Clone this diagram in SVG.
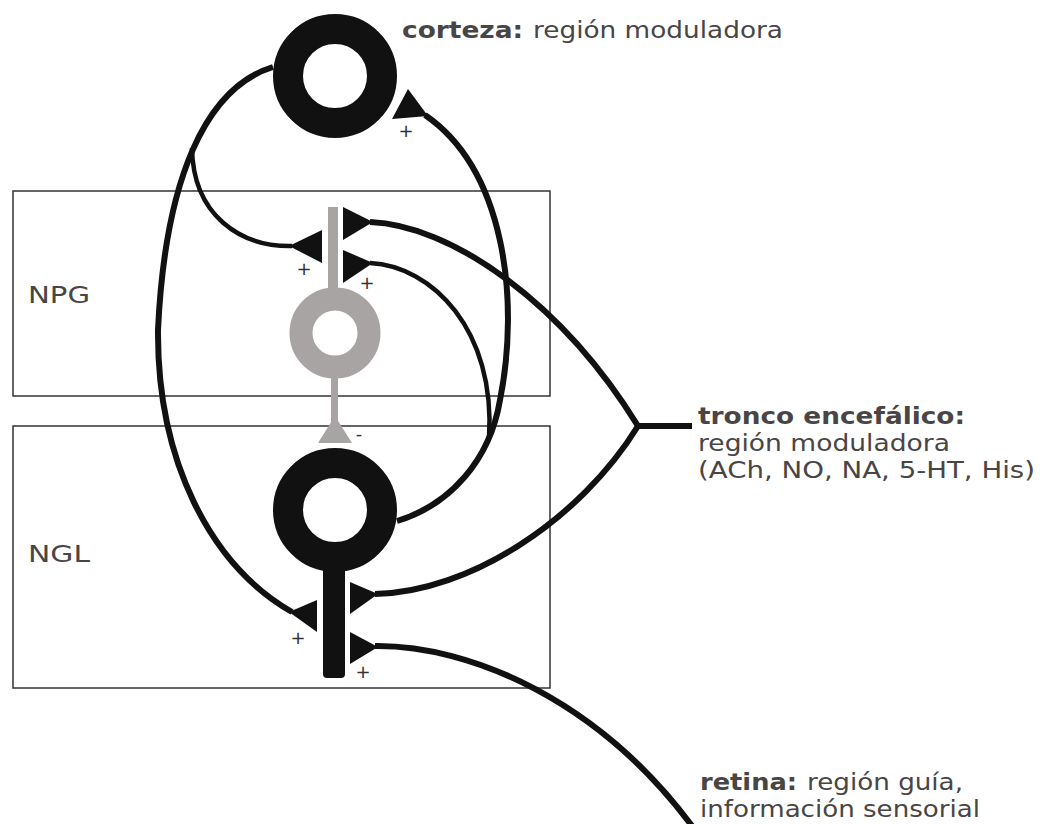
<svg xmlns="http://www.w3.org/2000/svg" width="1040" height="824" viewBox="0 0 1040 824">
<style>
.box{fill:none;stroke:#333;stroke-width:1.5}
.thick{fill:none;stroke:#111;stroke-width:6;stroke-linecap:butt}
.thin{fill:none;stroke:#111;stroke-width:4.5;stroke-linecap:butt}
.term{fill:#111}
.ring{fill:none;stroke:#111;stroke-width:30}
.gray{fill:#a9a4a4}
.lbl{font-family:"DejaVu Sans","Verdana",sans-serif;fill:#4a4545;font-size:23px}
.b{font-weight:bold}
.sign{font-family:"DejaVu Sans",sans-serif;fill:#333;font-size:18px;text-anchor:middle}
</style>
<rect width="1040" height="824" fill="#fff"/>
<g id="box-npg">
<rect class="box" x="13" y="191" width="537" height="205"/>
<text class="lbl" x="28" y="303" font-size="27" textLength="62" lengthAdjust="spacingAndGlyphs">NPG</text>
</g>
<g id="box-ngl">
<rect class="box" x="13" y="426" width="537" height="262"/>
<text class="lbl" x="28" y="562" font-size="27" textLength="62" lengthAdjust="spacingAndGlyphs">NGL</text>
</g>
<g id="connectors">
<path class="thick" d="M273,67 C205,88 165,180 158,330 C157,460 210,565 292,612"/>
<path class="thin" d="M192,148 C193,215 240,247 292,246"/>
<path class="thick" d="M397,521 C450,505 490,460 500,400 C520,300 505,170 425,115"/>
<path class="thin" d="M489,438 C496,330 432,266 370,263"/>
<path class="thick" d="M370,222 C450,225 560,300 638,426 C580,520 470,592 375,594"/>
<path class="thick" d="M638,426 L692,426"/>
<path class="thick" d="M375,646 C470,645 600,700 695,830"/>
<polygon class="term" points="408,89 392,119 428,116"/>
<polygon class="term" points="343,207 343,240 373,222"/>
<polygon class="term" points="343,250 343,283 373,263"/>
<polygon class="term" points="322,230 322,263 289,246"/>
<polygon class="term" points="317,600 317,632 289,612"/>
<polygon class="term" points="350,582 350,614 378,594"/>
<polygon class="term" points="350,632 350,664 378,647"/>
<text class="sign" x="406" y="137">+</text>
<text class="sign" x="304" y="275">+</text>
<text class="sign" x="367" y="289">+</text>
<text class="sign" x="298" y="644">+</text>
<text class="sign" x="363" y="678">+</text>
<text class="sign" x="359" y="440">-</text>
</g>
<g id="corteza">
<circle class="ring" cx="335" cy="76" r="47"/>
</g>
<g id="npg-neuron">
<rect class="gray" x="328" y="207" width="10" height="92"/>
<circle cx="335" cy="333" r="34" fill="none" stroke="#a9a4a4" stroke-width="23"/>
<rect class="gray" x="331" y="370" width="7" height="52"/>
<polygon class="gray" points="335,416 318,443 352,443"/>
</g>
<g id="ngl-neuron">
<circle class="ring" cx="335" cy="510" r="47"/>
<rect class="term" x="323" y="550" width="22" height="128" rx="4"/>
</g>
<g id="labels">
<text class="lbl b" x="402" y="38" textLength="121" lengthAdjust="spacingAndGlyphs">corteza:</text>
<text class="lbl" x="533" y="38" textLength="250" lengthAdjust="spacingAndGlyphs">región moduladora</text>
<text class="lbl b" x="698" y="424" textLength="267" lengthAdjust="spacingAndGlyphs">tronco encefálico:</text>
<text class="lbl" x="698" y="451" textLength="252" lengthAdjust="spacingAndGlyphs">región moduladora</text>
<text class="lbl" x="698" y="478" textLength="337" lengthAdjust="spacingAndGlyphs">(ACh, NO, NA, 5-HT, His)</text>
<text class="lbl b" x="700" y="790" textLength="97" lengthAdjust="spacingAndGlyphs">retina:</text>
<text class="lbl" x="807" y="790" textLength="156" lengthAdjust="spacingAndGlyphs">región guía,</text>
<text class="lbl" x="700" y="817" textLength="280" lengthAdjust="spacingAndGlyphs">información sensorial</text>
</g>
</svg>
